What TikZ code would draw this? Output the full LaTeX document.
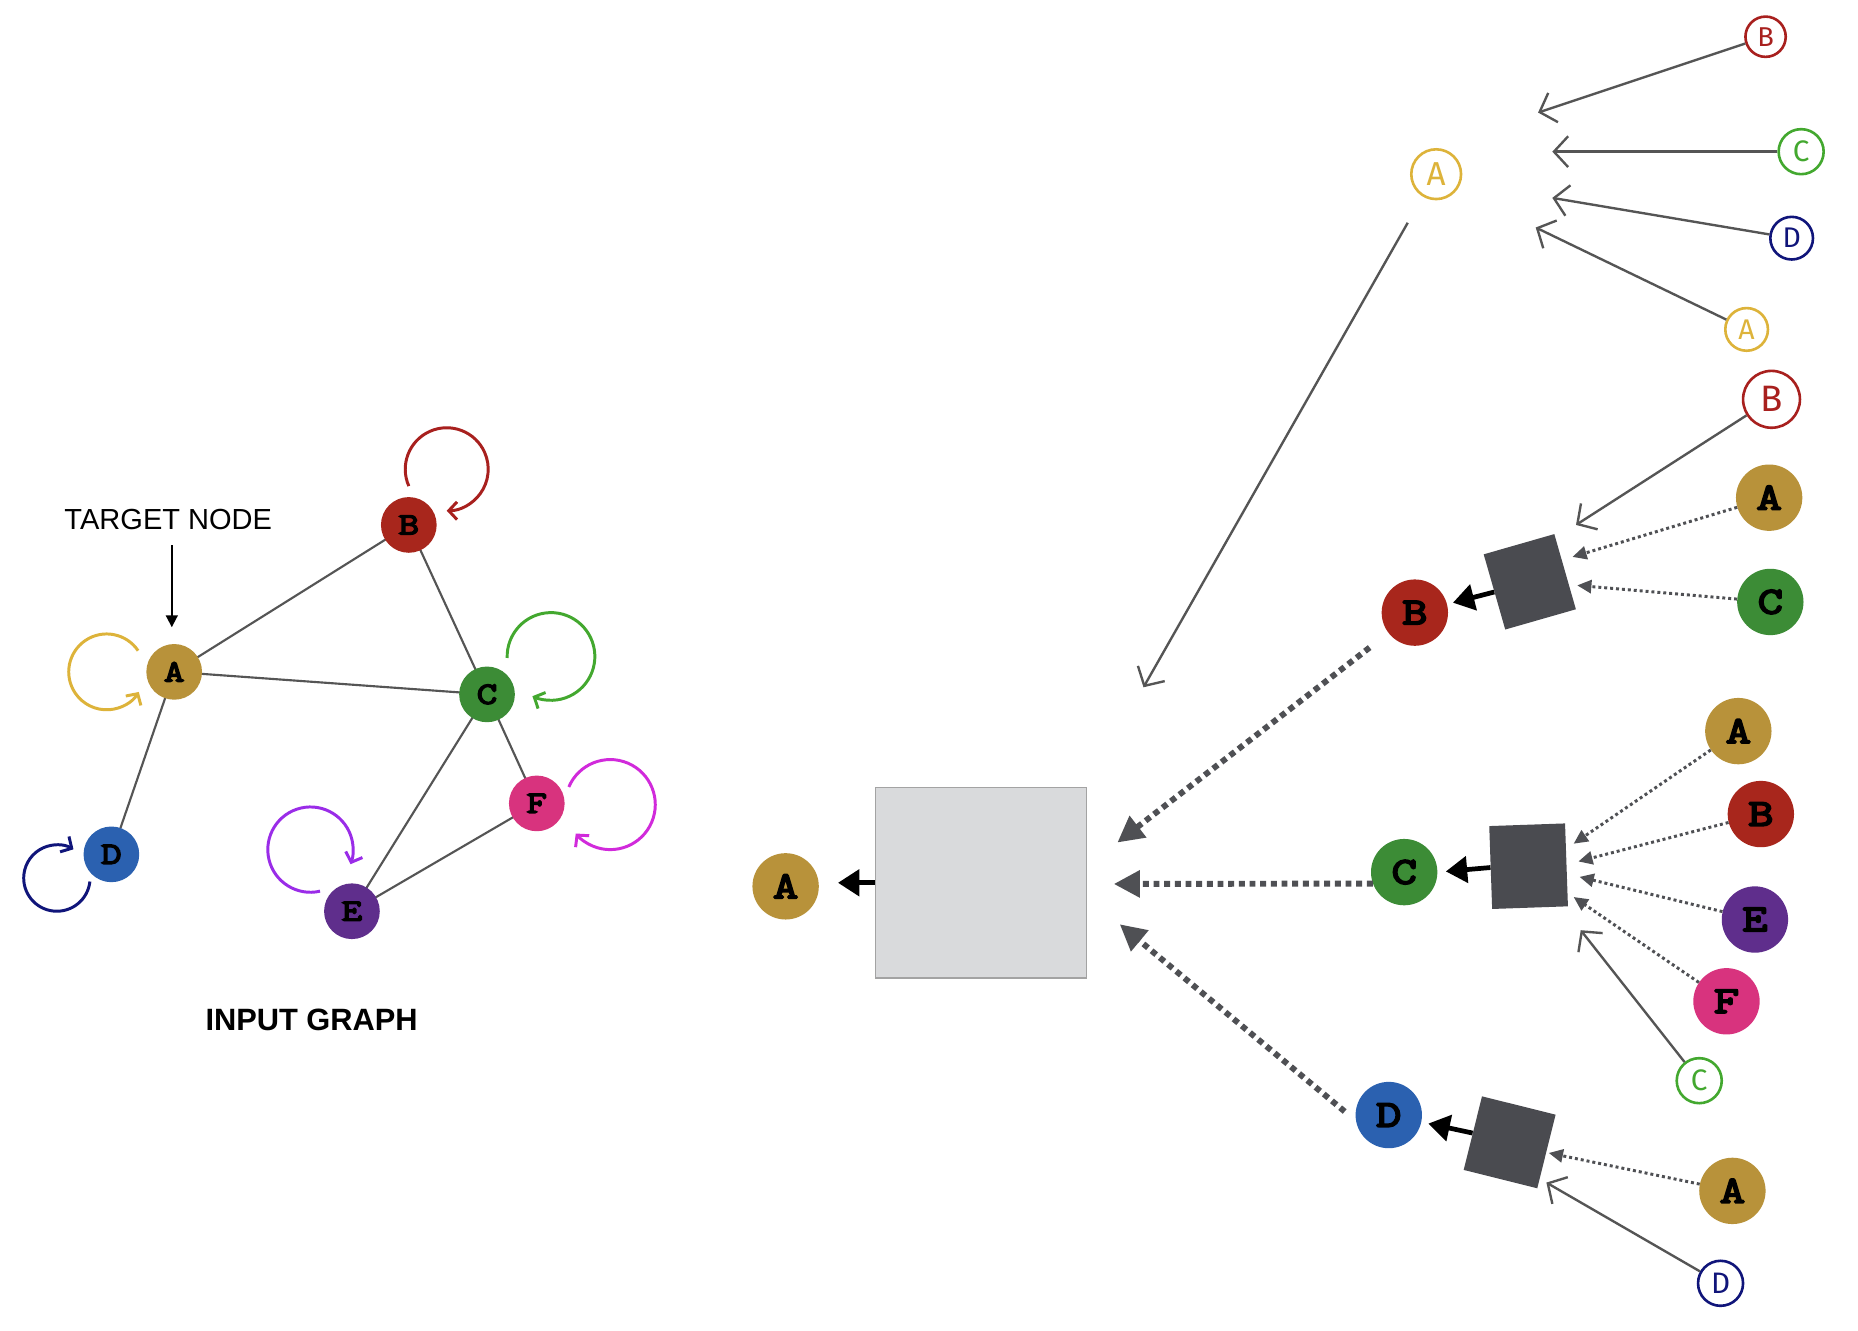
\documentclass[tikz,border=0pt]{standalone}
\usepackage{fontspec}
\setmainfont{Liberation Sans}
\newfontfamily\monob{Latin Modern Mono}[FakeBold=5,FakeStretch=1.3]
\newfontfamily\hand{Fira Sans}
\usetikzlibrary{arrows.meta}
\definecolor{nGold}{HTML}{B8923A}
\definecolor{nRed}{HTML}{A8261C}
\definecolor{nGreen}{HTML}{3C8C36}
\definecolor{nBlue}{HTML}{2B61B0}
\definecolor{nPurple}{HTML}{5F2E8C}
\definecolor{nPink}{HTML}{D8337E}
\definecolor{lYellow}{HTML}{DDB33A}
\definecolor{lRed}{HTML}{A8201E}
\definecolor{lGreen}{HTML}{43A82F}
\definecolor{lNavy}{HTML}{10157A}
\definecolor{lViolet}{HTML}{9A2CE8}
\definecolor{lMagenta}{HTML}{D12ADB}
\definecolor{edgegray}{HTML}{555555}
\definecolor{dotgray}{HTML}{4F5054}
\definecolor{boxdark}{HTML}{4A4B50}
\definecolor{boxlight}{HTML}{D9DADC}
\definecolor{boxborder}{HTML}{A3A3A3}
\begin{document}
\begin{tikzpicture}[x=1pt,y=-1pt,
  gnode/.style={circle, minimum size=47pt, inner sep=0pt, font=\monob\bfseries\fontsize{26}{26}\selectfont},
  rnode/.style={circle, minimum size=56pt, inner sep=0pt, font=\monob\bfseries\fontsize{32}{32}\selectfont},
  snode/.style={circle, draw, line width=2.2pt, fill=white, inner sep=0pt},
  gedge/.style={draw=edgegray, line width=1.8pt},
  bigdot/.style={draw=dotgray, line width=5pt, dash pattern=on 5pt off 4pt, -{Triangle[length=22pt,width=22pt]}},
  smalldot/.style={draw=dotgray, line width=2.5pt, dash pattern=on 2.5pt off 2.5pt, -{Triangle[length=12pt,width=11pt]}},
  openarr/.style={draw=edgegray, line width=2pt, -{Straight Barb[length=12pt,width=26pt]}},
  blackarr/.style={line width=4pt, -{Triangle[length=18pt,width=22pt]}},
  selfloop/.style={line width=2.5pt, -{Straight Barb[length=7pt,width=15pt]}},
  darkbox/.style={fill=boxdark, minimum width=62pt, minimum height=66pt, inner sep=0pt}
]
\useasboundingbox (0,0) rectangle (1568,1123);
\fill[white] (0,0) rectangle (1568,1123);

% ---------- input graph ----------
\coordinate (pA) at (147,567);
\coordinate (pB) at (345,443);
\coordinate (pC) at (411,586);
\coordinate (pD) at (94,721);
\coordinate (pE) at (297,769);
\coordinate (pF) at (453,678);
\draw[gedge] (pA) -- (pB);
\draw[gedge] (pA) -- (pC);
\draw[gedge] (pA) -- (pD);
\draw[gedge] (pB) -- (pC);
\draw[gedge] (pC) -- (pE);
\draw[gedge] (pC) -- (pF);
\draw[gedge] (pE) -- (pF);
\node[gnode, fill=nGold]   (gA) at (pA) {A};
\node[gnode, fill=nRed]    (gB) at (pB) {B};
\node[gnode, fill=nGreen]  (gC) at (pC) {C};
\node[gnode, fill=nBlue]   (gD) at (pD) {D};
\node[gnode, fill=nPurple] (gE) at (pE) {E};
\node[gnode, fill=nPink]   (gF) at (pF) {F};

% self loops
\draw[selfloop, lYellow]  (90,567)  ++(-34:32) arc[start angle=-34, end angle=-328, radius=32];
\draw[selfloop, lRed]     (377,396) ++(156:35) arc[start angle=156, end angle=450, radius=35];
\draw[selfloop, lGreen]   (465,554) ++(178:37) arc[start angle=178, end angle=475, radius=37];
\draw[selfloop, lNavy]    (48,741)  ++(6:28)   arc[start angle=6, end angle=300, radius=28];
\draw[selfloop, lViolet]  (262,717) ++(77:36)  arc[start angle=77, end angle=380, radius=36];
\draw[selfloop, lMagenta] (515,679) ++(203:38) arc[start angle=203, end angle=500, radius=38];

\node[font=\fontsize{24.5}{24.5}\selectfont] (tn) at (142,438) {TARGET NODE};
\draw[line width=1.6pt, -{Triangle[length=10pt,width=10pt]}] ([xshift=3pt,yshift=-10pt]tn.south) -- ([xshift=-2pt,yshift=14pt]gA.north);
\node[font=\bfseries\fontsize{26}{26}\selectfont] (ig) at (263,861) {INPUT GRAPH};

% ---------- aggregation ----------
\node[rnode, fill=nGold] (mA) at (663,748) {A};
\node[fill=boxlight, draw=boxborder, line width=1.2pt, minimum width=178pt, minimum height=161pt, inner sep=0pt] (agg) at (828,745) {};
\draw[blackarr, shorten >=16pt] (agg.west) -- (mA.east |- agg.west);

% right filled nodes
\node[rnode, fill=nRed]    (rB)  at (1194,517) {B};
\node[rnode, fill=nGold]   (rA1) at (1493,420) {A};
\node[rnode, fill=nGreen]  (rC1) at (1494,508) {C};
\node[rnode, fill=nGreen]  (rC)  at (1185,736) {C};
\node[rnode, fill=nGold]   (rA2) at (1467,617) {A};
\node[rnode, fill=nRed]    (rB2) at (1486,687) {B};
\node[rnode, fill=nPurple] (rE)  at (1481,776) {E};
\node[rnode, fill=nPink]   (rF)  at (1457,845) {F};
\node[rnode, fill=nBlue]   (rD)  at (1172,941) {D};
\node[rnode, fill=nGold]   (rA3) at (1462,1005) {A};

% dark boxes
\node[darkbox, rotate=16]  (boxB) at (1291,491) {};
\node[darkbox, rotate=2, minimum width=64pt, minimum height=70pt] (boxC) at (1290,731) {};
\node[darkbox, rotate=-14, minimum width=64pt, minimum height=64pt] (boxD) at (1274,964) {};

\draw[blackarr, shorten >=5pt] (boxB.west) -- (rB);
\draw[blackarr, shorten >=7pt] (boxC.west) -- (rC.east);
\draw[blackarr, shorten >=6pt] (boxD.west) -- (rD);

% thick dotted arrows into aggregation box
\coordinate (tipB) at (943,711);
\coordinate (tipC) at (940,746);
\coordinate (tipD) at (945,780);
\draw[bigdot, shorten <=20pt] (rB) -- (tipB);
\draw[bigdot] (rC.200) -- (tipC);
\draw[bigdot] ([xshift=-9pt,yshift=3pt]rD.west) -- (tipD);

% small dotted arrows
\coordinate (bA) at (1327,470);
\coordinate (bC) at (1331,494);
\draw[smalldot] (rA1) -- (bA);
\draw[smalldot] (rC1) -- (bC);
\coordinate (cA) at (1328,712);
\coordinate (cB) at (1332,727);
\coordinate (cE) at (1333,740);
\coordinate (cF) at (1328,757);
\draw[smalldot] (rA2) -- (cA);
\draw[smalldot] (rB2) -- (cB);
\draw[smalldot] (rE) -- (cE);
\draw[smalldot] (rF) -- (cF);
\coordinate (dA) at (1307,973);
\draw[smalldot] (rA3) -- (dA);

% sketch nodes
\node[snode, draw=lYellow, text=lYellow, minimum size=42pt, font=\hand\fontsize{28}{28}\selectfont] (sA)  at (1212,147) {A};
\node[snode, draw=lRed,    text=lRed,    minimum size=34pt, font=\hand\fontsize{23}{23}\selectfont] (sB1) at (1490,31)  {B};
\node[snode, draw=lGreen,  text=lGreen,  minimum size=38pt, font=\hand\fontsize{25}{25}\selectfont] (sC1) at (1520,128) {C};
\node[snode, draw=lNavy,   text=lNavy,   minimum size=36pt, font=\hand\fontsize{24}{24}\selectfont] (sD1) at (1512,201) {D};
\node[snode, draw=lYellow, text=lYellow, minimum size=36pt, font=\hand\fontsize{24}{24}\selectfont] (sA1) at (1474,278) {A};
\node[snode, draw=lRed,    text=lRed,    minimum size=48pt, font=\hand\fontsize{31}{31}\selectfont] (sB2) at (1495,337) {B};
\node[snode, draw=lGreen,  text=lGreen,  minimum size=38pt, font=\hand\fontsize{25}{25}\selectfont] (sC2) at (1434,912) {C};
\node[snode, draw=lNavy,   text=lNavy,   minimum size=38pt, font=\hand\fontsize{25}{25}\selectfont] (sD2) at (1452,1083) {D};

% open arrows
\coordinate (tB1) at (1298,95);
\coordinate (tC1) at (1310,128);
\coordinate (tD1) at (1310,167);
\coordinate (tA1) at (1296,192);
\draw[openarr] (sB1) -- (tB1);
\draw[openarr] (sC1) -- (tC1);
\draw[openarr] (sD1) -- (tD1);
\draw[openarr] (sA1) -- (tA1);
\coordinate (lA0) at (1188,188);
\coordinate (lA1) at (965,580);
\draw[openarr] (lA0) -- (lA1);
\coordinate (tB2) at (1330,443);
\coordinate (tC2) at (1334,785);
\coordinate (tD2) at (1305,998);
\draw[openarr] (sB2) -- (tB2);
\draw[openarr] (sC2) -- (tC2);
\draw[openarr] (sD2) -- (tD2);
\end{tikzpicture}
\end{document}
